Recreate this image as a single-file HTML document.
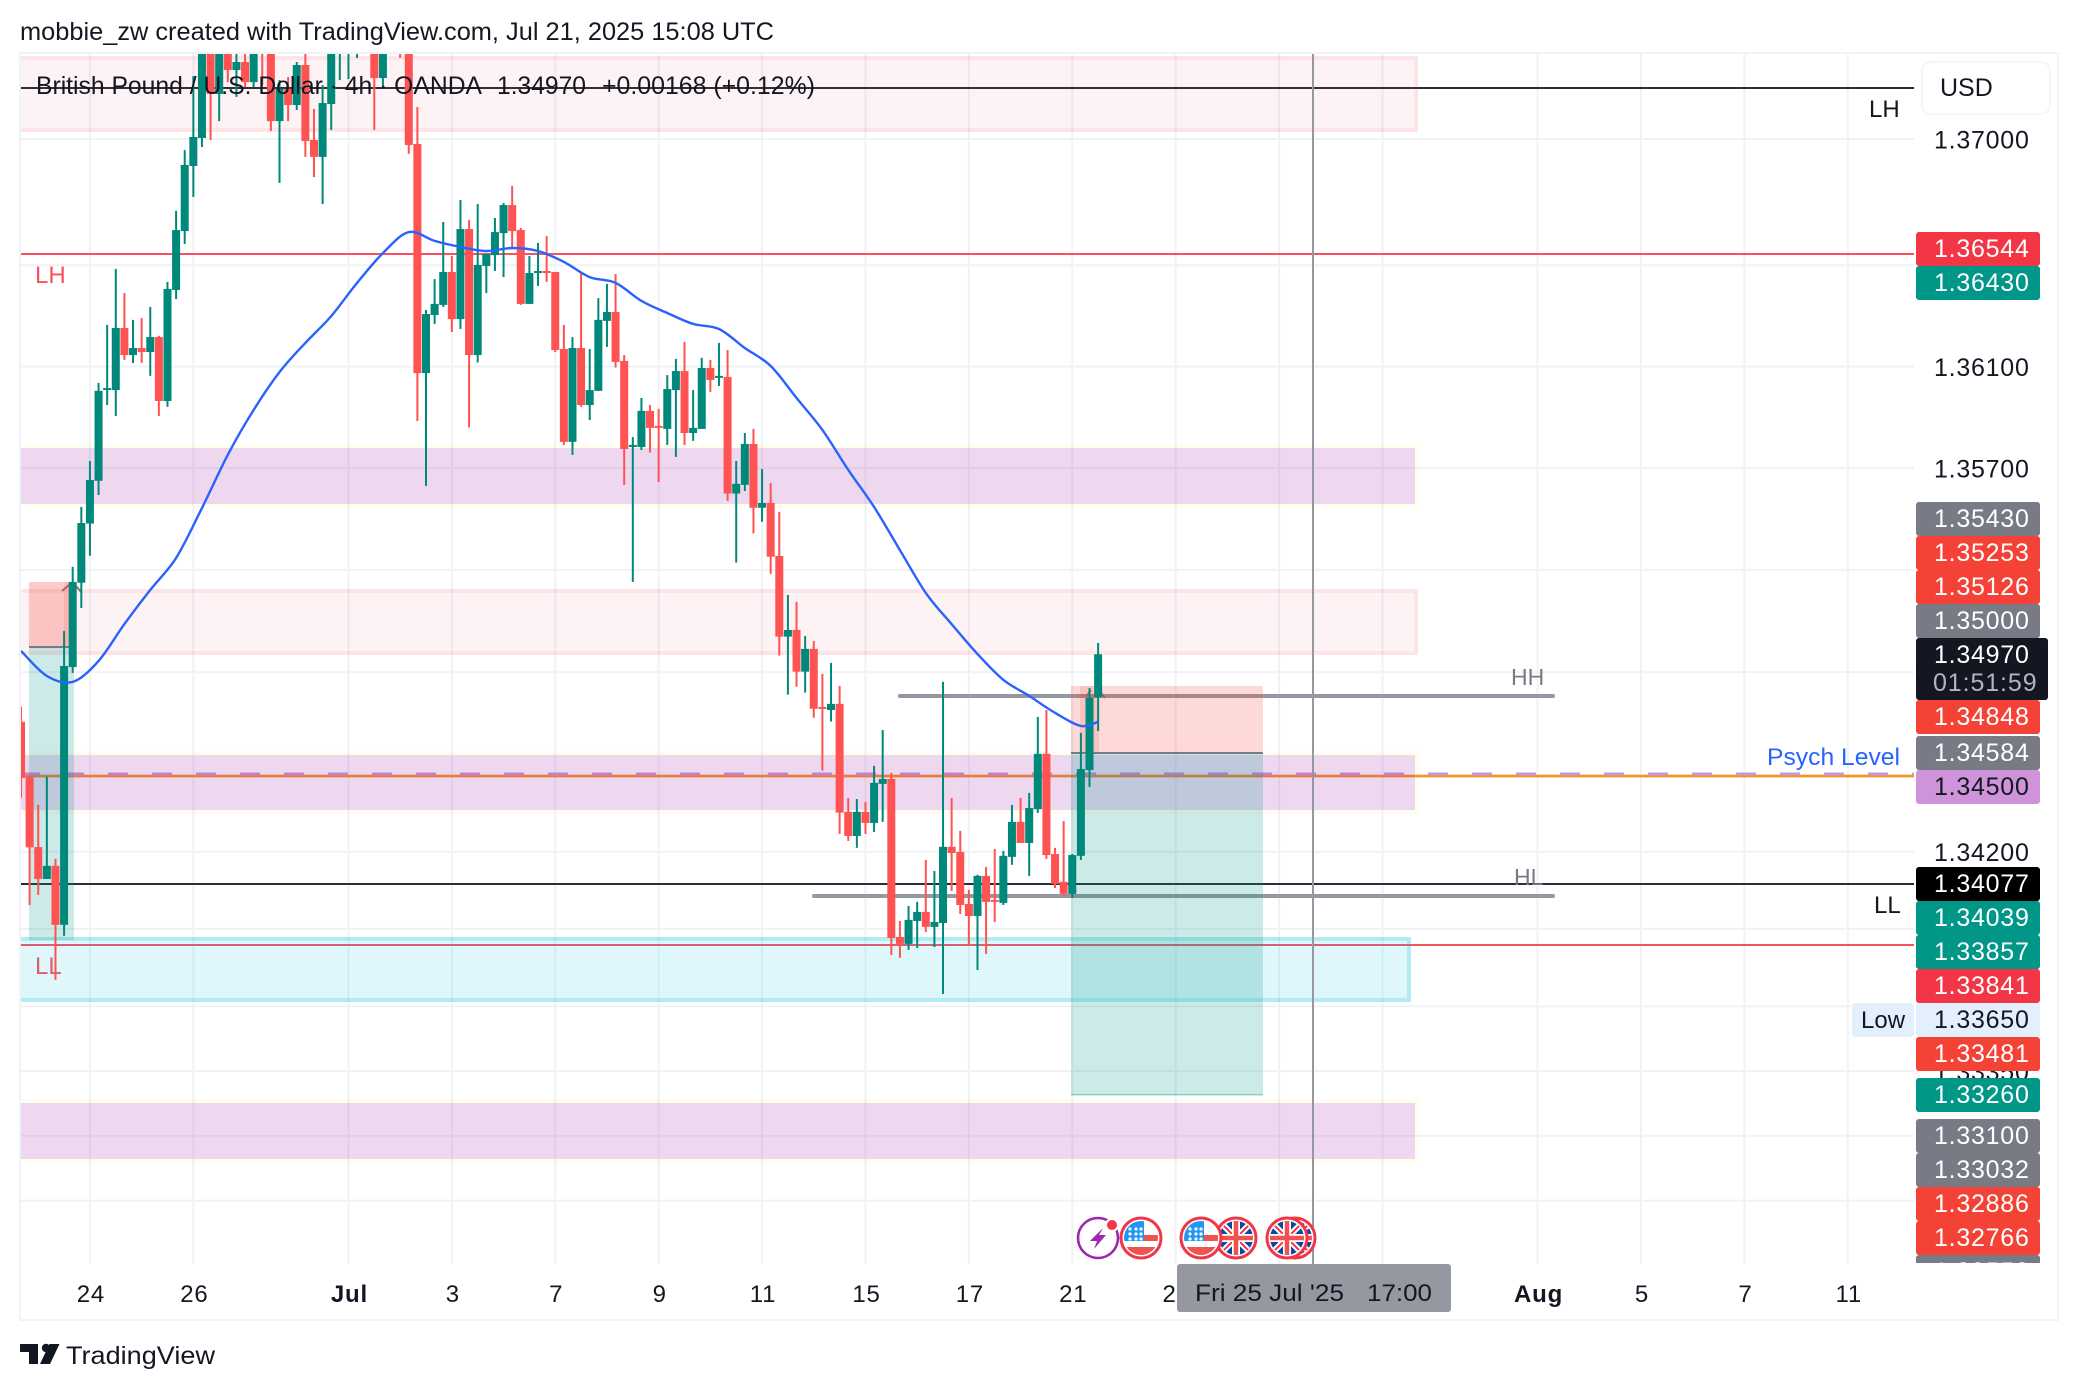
<!DOCTYPE html>
<html lang="en">
<head>
<meta charset="utf-8">
<title>GBPUSD 4h chart</title>
<style>
html,body{margin:0;padding:0;background:#fff;width:2078px;height:1390px;overflow:hidden}
svg{display:block;font-family:"Liberation Sans",sans-serif}
.tag{font-size:25px;fill:#fff;letter-spacing:.75px}
.tagd{font-size:25px;fill:#131722;letter-spacing:.75px}
</style>
</head>
<body>
<svg id="root" xmlns="http://www.w3.org/2000/svg" width="2078" height="1390" viewBox="0 0 2078 1390">
<defs>
<clipPath id="plot-clip"><rect x="20" y="54" width="1894" height="1210"/></clipPath>
<clipPath id="axis-clip"><rect x="1914" y="54" width="144" height="1209"/></clipPath>
<clipPath id="flag-clip"><circle cx="0" cy="0" r="17"/></clipPath>
<g id="us-flag">
<circle r="20" fill="#fff" stroke="#F23645" stroke-width="3"/>
<g clip-path="url(#flag-clip)">
<rect x="3" y="-15" width="16" height="5" fill="#fff"/>
<rect x="3" y="-3" width="16" height="6" fill="#EF5350"/>
<rect x="-18" y="9" width="36" height="8" fill="#EF5350"/>
<rect x="-18" y="-18" width="21" height="21" fill="#2196F3"/>
<circle cx="-11" cy="-9" r="1.6" fill="#fff"/><circle cx="-5" cy="-9" r="1.6" fill="#fff"/><circle cx="0" cy="-9" r="1.6" fill="#fff"/>
<circle cx="-11" cy="-4" r="1.6" fill="#fff"/><circle cx="-5" cy="-4" r="1.6" fill="#fff"/><circle cx="0" cy="-4" r="1.6" fill="#fff"/>
<circle cx="-11" cy="1" r="1.6" fill="#fff"/><circle cx="-5" cy="1" r="1.6" fill="#fff"/><circle cx="0" cy="1" r="1.6" fill="#fff"/>
</g>
</g>
<g id="uk-flag">
<circle r="20" fill="#fff" stroke="#F23645" stroke-width="3"/>
<g clip-path="url(#flag-clip)">
<rect x="-18" y="-18" width="36" height="36" fill="#0D47A1"/>
<path d="M-18 -18L18 18M18 -18L-18 18" stroke="#fff" stroke-width="6"/>
<path d="M-18 -18L18 18M18 -18L-18 18" stroke="#F23645" stroke-width="2"/>
<path d="M0 -18V18M-18 0H18" stroke="#fff" stroke-width="8"/>
<path d="M0 -18V18M-18 0H18" stroke="#EF5350" stroke-width="4.5"/>
</g>
</g>
</defs>

<rect x="0" y="0" width="2078" height="1390" fill="#fff"/>
<text x="20" y="40" font-size="25" fill="#131722" textLength="754" lengthAdjust="spacingAndGlyphs">mobbie_zw created with TradingView.com, Jul 21, 2025 15:08 UTC</text>

<g id="grid"></g>

<g clip-path="url(#plot-clip)">
  <g>
    <rect x="20" y="87" width="1894" height="2" fill="#2a2e39"/>
    <rect x="20" y="253" width="1894" height="2" fill="#F7525F"/>
    <rect x="20" y="883" width="1894" height="2" fill="#2a2e39"/>
    <rect x="20" y="944" width="1894" height="2" fill="#F7525F"/>
    <text x="35" y="283" font-size="24" fill="#F7525F">LH</text>
    <text x="35" y="974" font-size="24" fill="#F7525F">LL</text>
    <text x="1869" y="117" font-size="24" fill="#131722">LH</text>
    <text x="1874" y="913" font-size="24" fill="#131722">LL</text>
    <text x="1511" y="685" font-size="23" fill="#787B86">HH</text>
    <text x="1514" y="885" font-size="23" fill="#787B86">HL</text>
    <rect x="898" y="694" width="657" height="4" rx="2" fill="#9598A1"/>
    <rect x="812" y="894" width="743" height="4" rx="2" fill="#9598A1"/>
    <rect x="20" y="774.8" width="1894" height="2.6" fill="#F7931E"/>
    <line x1="20" y1="774" x2="1914" y2="774" stroke="#CE93D8" stroke-width="3" stroke-dasharray="20 24"/>
    <text x="1767" y="765" font-size="24" fill="#2962FF" textLength="133" lengthAdjust="spacingAndGlyphs">Psych Level</text>
    <path d="M62 591L69 585M76 586L82 593" fill="none" stroke="#787B86" stroke-width="2"/>
    <path d="M1086 697L1091 690M1099 690L1105 698" fill="none" stroke="#787B86" stroke-width="2"/>
  </g>

  <g>
    <g>
      <rect x="20" y="60" width="1394" height="68" fill="rgba(242,54,69,.06)"/>
      <rect x="18" y="58" width="1398" height="72" fill="none" stroke="rgba(242,54,69,.13)" stroke-width="4"/>
    </g>
    <g>
      <rect x="20" y="593" width="1394" height="58" fill="rgba(242,54,69,.06)"/>
      <rect x="18" y="591" width="1398" height="62" fill="none" stroke="rgba(242,54,69,.13)" stroke-width="4"/>
    </g>
    <g>
      <rect x="20" y="941" width="1387" height="57" fill="rgba(0,188,212,.125)"/>
      <rect x="18" y="939" width="1391" height="61" fill="none" stroke="rgba(0,188,212,.3)" stroke-width="4"/>
    </g>
    <g>
      <rect x="20" y="448" width="1395" height="56" fill="rgba(160,39,170,.18)"/>
      <rect x="18" y="446" width="1399" height="60" fill="none" stroke="rgba(255,235,59,.08)" stroke-width="4"/>
    </g>
    <g>
      <rect x="20" y="755" width="1395" height="55" fill="rgba(160,39,170,.18)"/>
      <rect x="18" y="753" width="1399" height="59" fill="none" stroke="rgba(255,235,59,.08)" stroke-width="4"/>
    </g>
    <g>
      <rect x="20" y="1103" width="1395" height="56" fill="rgba(160,39,170,.18)"/>
      <rect x="18" y="1101" width="1399" height="60" fill="none" stroke="rgba(255,235,59,.08)" stroke-width="4"/>
    </g>
  </g>

  <g>
    <rect x="29" y="582" width="44" height="65" fill="rgba(244,67,54,.27)"/>
    <rect x="64" y="582" width="9" height="65" fill="rgba(244,67,54,.12)"/>
    <rect x="29" y="647" width="45" height="293" fill="rgba(0,150,136,.2)"/>
    <rect x="29" y="646" width="40" height="2" fill="#787B86"/>
  </g>
  <g>
    <rect x="1071" y="686" width="192" height="67" fill="rgba(244,67,54,.2)"/>
    <rect x="1080" y="686" width="19" height="67" fill="rgba(244,67,54,.14)"/>
    <rect x="1071" y="753" width="192" height="342" fill="rgba(0,150,136,.2)"/>
    <rect x="1071" y="752" width="192" height="2" fill="#787B86"/>
    <rect x="1071" y="1094" width="192" height="1.5" fill="rgba(0,150,136,.35)"/>
  </g>

  <rect x="1312" y="54" width="2" height="1210" fill="#9598A1"/>

  <g id="candles"></g>
  <g id="ma"></g>

  <g>
    <g transform="translate(1098,1238)">
      <circle r="20" fill="#fff" stroke="#9C27B0" stroke-width="2.6"/>
      <polygon points="5,-10 -8,3 -1,3 -4,11 8,-3 1,-3" fill="#9C27B0"/>
      <circle cx="14" cy="-13" r="7" fill="#fff"/>
      <circle cx="14" cy="-13" r="5" fill="#F23645"/>
    </g>
    <use href="#us-flag" transform="translate(1141,1238)"/>
    <use href="#uk-flag" transform="translate(1236,1238)"/>
    <use href="#us-flag" transform="translate(1201,1238)"/>
    <use href="#uk-flag" transform="translate(1295,1238)"/>
    <use href="#uk-flag" transform="translate(1287,1238)"/>
  </g>
</g>

<g font-size="25" fill="#131722">
  <text x="36" y="94" textLength="446" lengthAdjust="spacingAndGlyphs">British Pound / U.S. Dollar · 4h · OANDA</text>
  <text x="497" y="94" textLength="89" lengthAdjust="spacingAndGlyphs">1.34970</text>
  <text x="602" y="94" textLength="213" lengthAdjust="spacingAndGlyphs">+0.00168 (+0.12%)</text>
</g>

<g id="price-ticks"></g>
<g id="time-ticks"></g>

<g clip-path="url(#axis-clip)">
  <g><rect x="1916" y="232" width="124" height="34" rx="3" fill="#F23645"/><text class="tag" x="1934" y="257">1.36544</text></g>
  <g><rect x="1916" y="266" width="124" height="34" rx="3" fill="#009688"/><text class="tag" x="1934" y="291">1.36430</text></g>
  <g><rect x="1916" y="502" width="124" height="34" rx="3" fill="#787B86"/><text class="tag" x="1934" y="527">1.35430</text></g>
  <g><rect x="1916" y="536" width="124" height="34" rx="3" fill="#F44336"/><text class="tag" x="1934" y="561">1.35253</text></g>
  <g><rect x="1916" y="570" width="124" height="34" rx="3" fill="#F44336"/><text class="tag" x="1934" y="595">1.35126</text></g>
  <g><rect x="1916" y="604" width="124" height="34" rx="3" fill="#787B86"/><text class="tag" x="1934" y="629">1.35000</text></g>
  <g><rect x="1916" y="638" width="132" height="62" rx="3" fill="#131722"/><text class="tag" x="1934" y="663">1.34970</text><text x="1933" y="691" font-size="25" fill="#B2B5BE" letter-spacing=".9">01:51:59</text></g>
  <g><rect x="1916" y="700" width="124" height="34" rx="3" fill="#F44336"/><text class="tag" x="1934" y="725">1.34848</text></g>
  <g><rect x="1916" y="736" width="124" height="34" rx="3" fill="#787B86"/><text class="tag" x="1934" y="761">1.34584</text></g>
  <g><rect x="1916" y="770" width="124" height="34" rx="3" fill="#CE93D8"/><text class="tagd" x="1934" y="795">1.34500</text></g>
  <g><rect x="1916" y="867" width="124" height="34" rx="3" fill="#000"/><text class="tag" x="1934" y="892">1.34077</text></g>
  <g><rect x="1916" y="901" width="124" height="34" rx="3" fill="#009688"/><text class="tag" x="1934" y="926">1.34039</text></g>
  <g><rect x="1916" y="935" width="124" height="34" rx="3" fill="#009688"/><text class="tag" x="1934" y="960">1.33857</text></g>
  <g><rect x="1916" y="969" width="124" height="34" rx="3" fill="#F23645"/><text class="tag" x="1934" y="994">1.33841</text></g>
  <g><rect x="1916" y="1003" width="124" height="34" rx="3" fill="#E3EFFD"/><text class="tagd" x="1934" y="1028">1.33650</text></g>
  <g><rect x="1916" y="1037" width="124" height="34" rx="3" fill="#F44336"/><text class="tag" x="1934" y="1062">1.33481</text></g>
  <g><rect x="1916" y="1078" width="124" height="34" rx="3" fill="#009688"/><text class="tag" x="1934" y="1103">1.33260</text></g>
  <g><rect x="1916" y="1119" width="124" height="34" rx="3" fill="#787B86"/><text class="tag" x="1934" y="1144">1.33100</text></g>
  <g><rect x="1916" y="1153" width="124" height="34" rx="3" fill="#787B86"/><text class="tag" x="1934" y="1178">1.33032</text></g>
  <g><rect x="1916" y="1187" width="124" height="34" rx="3" fill="#F44336"/><text class="tag" x="1934" y="1212">1.32886</text></g>
  <g><rect x="1916" y="1221" width="124" height="34" rx="3" fill="#F44336"/><text class="tag" x="1934" y="1246">1.32766</text></g>
  <g><rect x="1916" y="1255" width="124" height="34" rx="3" fill="#787B86"/><text class="tag" x="1934" y="1280">1.32550</text></g>
</g>
<g>
  <rect x="1852" y="1003" width="62" height="34" rx="3" fill="#E3EFFD"/>
  <text x="1861" y="1028" font-size="24" fill="#131722">Low</text>
</g>

<g>
  <rect x="1922" y="62" width="128" height="52" rx="9" fill="#fff" stroke="#F0F3FA" stroke-width="1.5"/>
  <text x="1940" y="96" font-size="25" fill="#131722">USD</text>
</g>

<g>
  <rect x="1177" y="1264" width="274" height="48" rx="3" fill="#9598A1"/>
  <text x="1195" y="1301" font-size="24" fill="#131722" textLength="149" lengthAdjust="spacingAndGlyphs">Fri 25 Jul '25</text>
  <text x="1367" y="1301" font-size="24" fill="#131722" textLength="65" lengthAdjust="spacingAndGlyphs">17:00</text>
</g>

<g>
  <rect x="20" y="53" width="2038" height="1267" fill="none" stroke="#F0F3FA" stroke-width="2"/>
</g>

<g>
  <path d="M20 1344H38V1364H29V1352H20Z" fill="#131722"/>
  <circle cx="46" cy="1348" r="4.2" fill="#131722"/>
  <path d="M59.5 1344L50 1364H40L49.5 1344Z" fill="#131722"/>
  <text x="66" y="1364" font-size="25" fill="#131722" textLength="149" lengthAdjust="spacingAndGlyphs">TradingView</text>
</g>
</svg>

<script>
const opens = [
1.34706,1.34492,1.34218,1.34094,1.34145,1.33916,1.34920,1.35250,1.35482,1.35650,
1.36007,1.36007,1.36252,1.36145,1.36173,1.36157,1.36216,1.35964,1.36402,1.36635,
1.36893,1.37004,1.37374,1.37179,1.37370,1.37274,1.37306,1.37226,1.37394,1.37374,
1.37071,1.37199,1.37135,1.37294,1.36996,1.36929,1.37139,1.37362,1.37370,1.37378,
1.37414,1.37394,1.37242,1.37374,1.37410,1.37370,1.36980,1.36074,1.36303,1.36343,
1.36473,1.36287,1.36643,1.36145,1.36497,1.36540,1.36627,1.36738,1.36639,1.36347,
1.36469,1.36477,1.36473,1.36169,1.35803,1.36173,1.35948,1.36004,1.36280,1.36315,
1.36122,1.35783,1.35783,1.35925,1.35866,1.35854,1.36007,1.36082,1.35838,1.35854,
1.36094,1.36057,1.36059,1.35600,1.35634,1.35795,1.35544,1.35563,1.35355,1.35039,
1.35065,1.34902,1.34991,1.34764,1.34752,1.34776,1.34355,1.34261,1.34355,1.34312,
1.34464,1.34483,1.33869,1.33842,1.33931,1.33966,1.33908,1.33923,1.34219,1.34199,
1.33997,1.33950,1.34106,1.34013,1.34001,1.34180,1.34316,1.34234,1.34366,1.34581,
1.34191,1.34083,1.34036,1.34184,1.34518,1.34802];
const highs = [
1.34765,1.34492,1.34382,1.34492,1.34172,1.35061,1.35312,1.35547,1.35728,1.36035,
1.36264,1.36485,1.36390,1.36284,1.36291,1.36335,1.36221,1.36434,1.36715,1.36956,
1.37250,1.37426,1.37402,1.37414,1.37394,1.37354,1.37362,1.37394,1.37414,1.37402,
1.37234,1.37246,1.37306,1.37354,1.37119,1.37214,1.37394,1.37418,1.37426,1.37446,
1.37480,1.37418,1.37402,1.37430,1.37450,1.37402,1.37127,1.36323,1.36445,1.36671,
1.36536,1.36758,1.36679,1.36742,1.36544,1.36687,1.36746,1.36814,1.36647,1.36536,
1.36588,1.36615,1.36473,1.36264,1.36216,1.36473,1.36169,1.36370,1.36426,1.36465,
1.36145,1.35822,1.35976,1.35948,1.35933,1.36066,1.36130,1.36197,1.36007,1.36134,
1.36126,1.36193,1.36165,1.35728,1.35838,1.35854,1.35696,1.35641,1.35528,1.35202,
1.35175,1.35041,1.35022,1.34893,1.34936,1.34846,1.34409,1.34405,1.34394,1.34534,
1.34674,1.34507,1.33931,1.33989,1.34005,1.34168,1.34125,1.34862,1.34409,1.34281,
1.34052,1.34110,1.34141,1.34211,1.34203,1.34382,1.34409,1.34429,1.34725,1.34752,
1.34215,1.34319,1.34191,1.34663,1.34838,1.35014];
const lows = [
1.34410,1.33993,1.34032,1.34094,1.33703,1.33873,1.34897,1.35151,1.35356,1.35594,
1.35948,1.35905,1.36126,1.36114,1.36114,1.36063,1.35905,1.35941,1.36366,1.36584,
1.36770,1.36968,1.36996,1.37071,1.37226,1.37167,1.37206,1.37206,1.37214,1.37032,
1.36826,1.37071,1.37115,1.36929,1.36849,1.36742,1.37036,1.37234,1.37238,1.37322,
1.37380,1.37036,1.37210,1.37350,1.37322,1.36941,1.35885,1.35630,1.36268,1.36335,
1.36236,1.36248,1.35860,1.36116,1.36390,1.36477,1.36453,1.36572,1.36343,1.36347,
1.36418,1.36434,1.36157,1.35791,1.35752,1.35941,1.35889,1.36004,1.36177,1.36096,
1.35634,1.35253,1.35771,1.35761,1.35645,1.35791,1.35744,1.35791,1.35807,1.35854,
1.36000,1.36023,1.35571,1.35329,1.35610,1.35443,1.35489,1.35285,1.34965,1.34812,
1.34843,1.34820,1.34722,1.34516,1.34707,1.34269,1.34242,1.34215,1.34269,1.34277,
1.34316,1.33799,1.33788,1.33819,1.33826,1.33888,1.33830,1.33648,1.34048,1.33958,
1.33838,1.33741,1.33803,1.33927,1.33993,1.34149,1.34234,1.34106,1.34351,1.34172,
1.34059,1.34028,1.34020,1.34168,1.34452,1.34670];
const closes = [
1.34487,1.34217,1.34094,1.34145,1.33916,1.34924,1.35253,1.35484,1.35653,1.36004,
1.36015,1.36252,1.36145,1.36173,1.36157,1.36216,1.35964,1.36406,1.36639,1.36897,
1.37008,1.37394,1.37179,1.37386,1.37274,1.37306,1.37226,1.37374,1.37354,1.37071,
1.37199,1.37135,1.37294,1.36992,1.36929,1.37143,1.37374,1.37394,1.37402,1.37414,
1.37440,1.37242,1.37374,1.37410,1.37370,1.36976,1.36074,1.36307,1.36347,1.36473,
1.36287,1.36643,1.36145,1.36501,1.36544,1.36631,1.36738,1.36635,1.36347,1.36469,
1.36477,1.36469,1.36165,1.35803,1.36173,1.35948,1.36007,1.36284,1.36315,1.36118,
1.35775,1.35791,1.35925,1.35858,1.35858,1.36011,1.36082,1.35838,1.35858,1.36094,
1.36047,1.36063,1.35600,1.35638,1.35795,1.35544,1.35563,1.35352,1.35039,1.35065,
1.34902,1.34991,1.34757,1.34757,1.34776,1.34352,1.34261,1.34355,1.34312,1.34468,
1.34483,1.33865,1.33842,1.33935,1.33966,1.33908,1.33927,1.34219,1.34195,1.33993,
1.33950,1.34106,1.34005,1.34005,1.34184,1.34316,1.34234,1.34370,1.34581,1.34187,
1.34075,1.34036,1.34187,1.34522,1.34799,1.34970];

const maBars = [0,3,6,9,12,15,18,21,24,27,30,33,36,39,42,45,48,51,54,57,60,63,66,69,72,75,78,81,84,87,90,93,96,99,102,105,108,111,114,117,120,123,125];
const maValues = [
1.34983,1.34885,1.34862,1.34944,1.35088,1.35222,1.35347,1.35543,1.35752,1.35929,
1.36078,1.36193,1.36299,1.36430,1.36548,1.36631,1.36596,1.36572,1.36556,1.36568,
1.36556,1.36513,1.36453,1.36430,1.36359,1.36311,1.36268,1.36248,1.36173,1.36102,
1.35976,1.35850,1.35693,1.35547,1.35378,1.35210,1.35088,1.34971,1.34870,1.34807,
1.34741,1.34690,1.34706];

const priceTicks = [1.37,1.365,1.361,1.357,1.353,1.349,1.345,1.342,1.339,1.336,1.3335,1.331,1.3285];
const timeTickBars = [8,20,38,50,62,74,86,98,110,122,134,146,158,176,188,200,212];
const timeTickLabels = ['24','26','Jul','3','7','9','11','15','17','21','23','25','29','Aug','5','7','11'];
const timeTickBold = ['Jul','Aug'];

const SVG_NS = 'http://www.w3.org/2000/svg';
function priceToY(p){ return 139 + 34514 * Math.log(1.37 / p); }
function barToX(i){ return 21 + 8.617 * i; }
function make(tag, attrs, parent){
  const el = document.createElementNS(SVG_NS, tag);
  for (const k in attrs) el.setAttribute(k, attrs[k]);
  parent.appendChild(el);
  return el;
}

const gridG = document.getElementById('grid');
priceTicks.forEach(function(p){
  const line = make('rect', {x:20, y:priceToY(p)-1, width:1894, height:2, fill:'#F1F2F4'}, gridG);
  
  
});
timeTickBars.forEach(function(b){
  const line = make('rect', {x:barToX(b)-1, y:54, width:2, height:1210, fill:'#F1F2F4'}, gridG);
  
  
});

const priceTickG = document.getElementById('price-ticks');
priceTicks.forEach(function(p){
  const t = make('text', {x:1934, y:priceToY(p)+9.5, 'font-size':25, fill:'#131722', 'letter-spacing':'.75'}, priceTickG);
  
  
  t.textContent = p.toFixed(5);
});

const timeTickG = document.getElementById('time-ticks');
timeTickBars.forEach(function(b, i){
  const label = timeTickLabels[i];
  const bold = timeTickBold.indexOf(label) >= 0;
  const t = make('text', {x:barToX(b)+1, y:1302, 'font-size':24, fill:'#131722', 'text-anchor':'middle', 'letter-spacing':'.8', 'font-weight':bold?'700':'400'}, timeTickG);
  
  
  t.textContent = label;
});

const candleG = document.getElementById('candles');
opens.forEach(function(o, i){
  const c = closes[i];
  const color = c >= o ? '#00897B' : '#FF5252';
  const x = barToX(i);
  const yTop = priceToY(Math.max(o, c));
  const yBot = priceToY(Math.min(o, c));
  const yHigh = priceToY(highs[i]);
  const yLow = priceToY(lows[i]);
  const g = make('g', {}, candleG);
  
  
  const wick = make('rect', {x:x-1, y:yHigh, width:2, height:Math.max(yLow-yHigh, 1), fill:color}, g);
  
  
  const body = make('rect', {x:x-4, y:yTop, width:8, height:Math.max(yBot-yTop, 2), fill:color}, g);
  
  
});

const maPts = maValues.map(function(v, i){ return [barToX(maBars[i]), priceToY(v)]; });
let maPath = 'M' + maPts[0][0].toFixed(1) + ' ' + maPts[0][1].toFixed(1);
for (let i = 0; i < maPts.length - 1; i++) {
  const p0 = maPts[Math.max(i - 1, 0)];
  const p1 = maPts[i];
  const p2 = maPts[i + 1];
  const p3 = maPts[Math.min(i + 2, maPts.length - 1)];
  const c1x = p1[0] + (p2[0] - p0[0]) / 6;
  const c1y = p1[1] + (p2[1] - p0[1]) / 6;
  const c2x = p2[0] - (p3[0] - p1[0]) / 6;
  const c2y = p2[1] - (p3[1] - p1[1]) / 6;
  maPath += 'C' + c1x.toFixed(1) + ' ' + c1y.toFixed(1) + ' ' + c2x.toFixed(1) + ' ' + c2y.toFixed(1) + ' ' + p2[0].toFixed(1) + ' ' + p2[1].toFixed(1);
}
const maLine = make('path', {d:maPath, fill:'none', stroke:'#2962FF', 'stroke-width':2.4, 'stroke-linejoin':'round'}, document.getElementById('ma'));


</script>
</body>
</html>
